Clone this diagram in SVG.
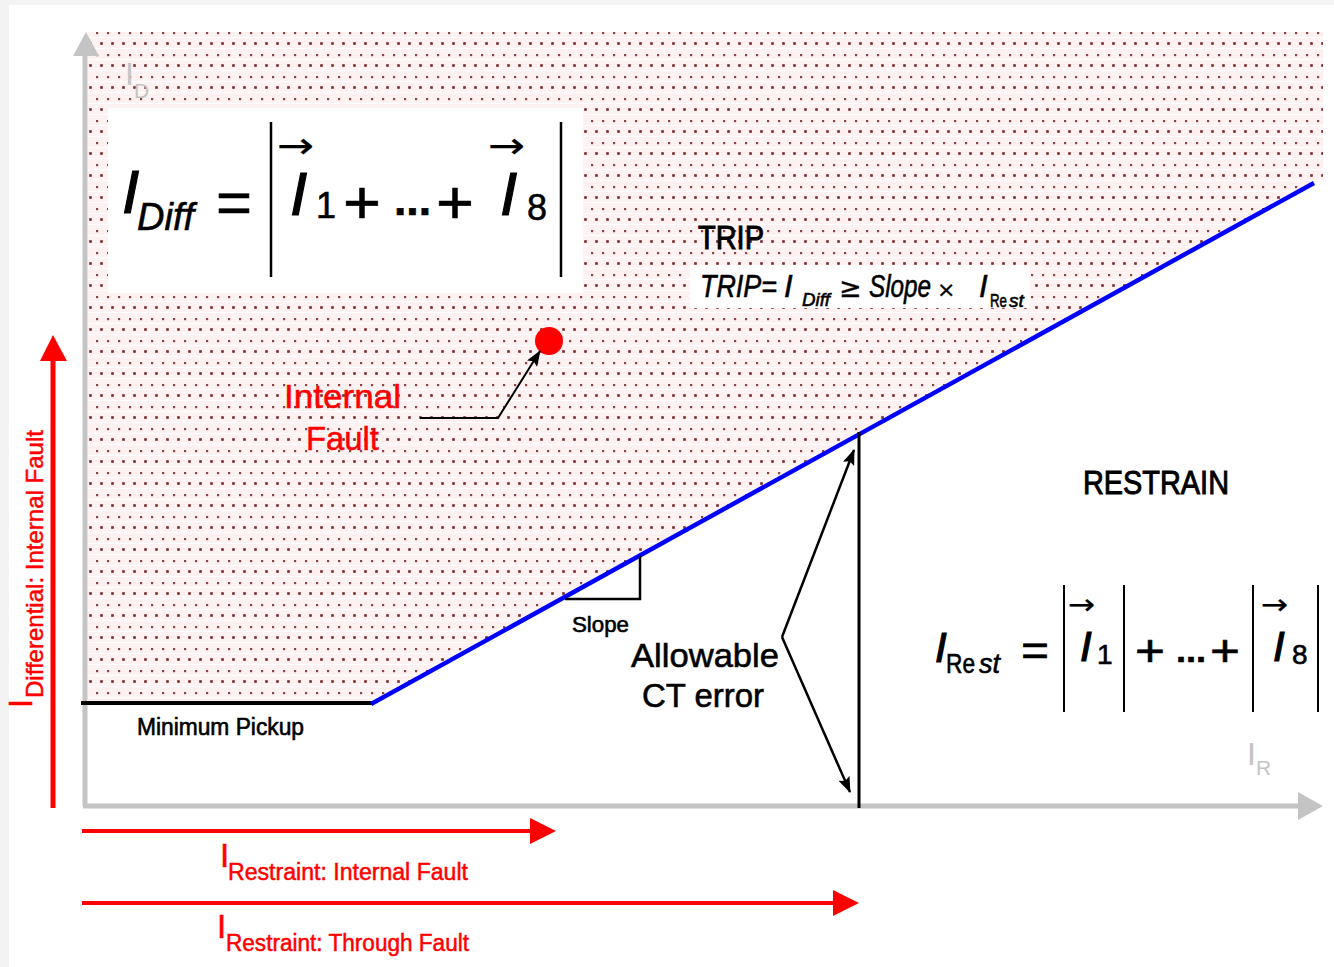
<svg xmlns="http://www.w3.org/2000/svg" width="1334" height="967" viewBox="0 0 1334 967">
<style>
text{font-family:"Liberation Sans","DejaVu Sans",sans-serif;fill:#000;stroke:#000;stroke-width:0.6;}
.it{font-style:italic;}
.up{font-style:normal;}
.red{fill:#ff0000;stroke:#ff0000;stroke-width:0.5;}
.gray{fill:#c4c4c4;stroke:none;}
.sym{font-family:"DejaVu Sans","Liberation Sans",sans-serif;stroke-width:0.3;}
.big{stroke-width:1.2;}
</style>
<defs>
<pattern id="dots" patternUnits="userSpaceOnUse" x="0" y="32" width="11" height="22">
<rect width="11" height="22" fill="#fdf2f1"/>
<rect x="0" y="5" width="11" height="1" fill="#ffffff"/>
<rect x="0" y="16" width="11" height="1" fill="#ffffff"/>
<rect x="8" y="0" width="2.2" height="2.2" fill="#8a4444"/>
<rect x="1.2" y="10.2" width="2.6" height="2.6" fill="#772626"/>
</pattern>
<marker id="ah" viewBox="0 0 16 12" refX="15" refY="6" markerWidth="16" markerHeight="12" markerUnits="userSpaceOnUse" orient="auto">
<path d="M0,0 L16,6 L0,12 L3,6 z" fill="#000"/>
</marker>
</defs>
<rect width="1334" height="967" fill="#f3f3f3"/>
<rect x="9" y="5" width="1325" height="962" fill="#ffffff"/>

<g id="trip-region">
<polygon points="88,32 1323,32 1323,180 373,703 88,703" fill="url(#dots)"/>
</g>

<g id="axes">
<line x1="85" y1="806" x2="85" y2="50" stroke="#c4c4c4" stroke-width="5"/>
<polygon points="86,32 73,56 99,56" fill="#c4c4c4"/>
<line x1="83" y1="806" x2="1302" y2="806" stroke="#c4c4c4" stroke-width="5"/>
<polygon points="1323,806 1298,792 1298,820" fill="#c4c4c4"/>
<text x="125" y="85" class="gray" font-size="32">I</text>
<text x="134" y="98" class="gray" font-size="21">D</text>
<text x="1247" y="765" class="gray" font-size="32">I</text>
<text x="1256" y="775" class="gray" font-size="21">R</text>
</g>

<g id="idiff-formula">
<rect x="108" y="108" width="475" height="185" fill="#ffffff"/>
<text x="122" y="213" class="it big" font-size="62">I</text>
<text x="137" y="230" class="it" font-size="38" textLength="57">Diff</text>
<text x="216" y="223" font-size="60" textLength="36" lengthAdjust="spacingAndGlyphs">=</text>
<line x1="271" y1="122" x2="271" y2="277" stroke="#000" stroke-width="2.5"/>
<line x1="561" y1="122" x2="561" y2="277" stroke="#000" stroke-width="2.5"/>
<text x="277" y="158" class="sym" font-size="36" textLength="37" lengthAdjust="spacingAndGlyphs">→</text>
<text x="290" y="215" class="it big" font-size="62">I</text>
<text x="316" y="218" font-size="36">1</text>
<text x="343" y="223" font-size="62" textLength="38" lengthAdjust="spacingAndGlyphs">+</text>
<text x="394" y="215" font-size="44" font-weight="bold" textLength="37" lengthAdjust="spacingAndGlyphs">...</text>
<text x="436" y="223" font-size="62" textLength="38" lengthAdjust="spacingAndGlyphs">+</text>
<text x="488" y="158" class="sym" font-size="36" textLength="37" lengthAdjust="spacingAndGlyphs">→</text>
<text x="500" y="215" class="it big" font-size="62">I</text>
<text x="527" y="220" font-size="36">8</text>
</g>

<g id="trip-label">
<text x="698" y="249" font-size="34" textLength="66" lengthAdjust="spacingAndGlyphs" style="stroke-width:1">TRIP</text>
</g>

<g id="trip-formula">
<rect x="690" y="265" width="340" height="43" fill="#ffffff" stroke="none"/>
<text class="it" font-size="31"><tspan x="700" y="297" textLength="77" lengthAdjust="spacingAndGlyphs">TRIP=</tspan><tspan x="784" y="297">I</tspan><tspan x="802" y="306" font-size="19" textLength="28" lengthAdjust="spacingAndGlyphs">Diff</tspan><tspan x="839" y="297" class="up sym" font-size="27">≥</tspan><tspan x="869" y="297" textLength="62" lengthAdjust="spacingAndGlyphs">Slope</tspan><tspan x="937" y="297" class="up sym" font-size="22">×</tspan><tspan x="979" y="297">I</tspan><tspan x="990" y="307" class="up" font-size="19" textLength="17" lengthAdjust="spacingAndGlyphs">Re</tspan><tspan x="1009" y="307" font-size="19">st</tspan></text>
</g>

<g id="restrain-label">
<text x="1083" y="494" font-size="34" textLength="146" lengthAdjust="spacingAndGlyphs" style="stroke-width:1">RESTRAIN</text>
</g>

<g id="irest-formula">
<text x="935" y="662" class="it big" font-size="42">I</text>
<text x="946" y="673" font-size="27" textLength="29" lengthAdjust="spacingAndGlyphs">Re</text>
<text x="979" y="673" class="it" font-size="27">st</text>
<text x="1021" y="666" font-size="44" textLength="28" lengthAdjust="spacingAndGlyphs">=</text>
<line x1="1064" y1="585" x2="1064" y2="712" stroke="#000" stroke-width="2"/>
<text x="1068" y="614" class="sym" font-size="28" textLength="27" lengthAdjust="spacingAndGlyphs">→</text>
<text x="1080" y="661" class="it big" font-size="42">I</text>
<text x="1097" y="664" font-size="28">1</text>
<line x1="1124" y1="585" x2="1124" y2="712" stroke="#000" stroke-width="2"/>
<text x="1135" y="666" font-size="44" textLength="30" lengthAdjust="spacingAndGlyphs">+</text>
<text x="1176" y="662" font-size="34" font-weight="bold" textLength="30" lengthAdjust="spacingAndGlyphs">...</text>
<text x="1210" y="666" font-size="44" textLength="30" lengthAdjust="spacingAndGlyphs">+</text>
<line x1="1253" y1="585" x2="1253" y2="712" stroke="#000" stroke-width="2"/>
<text x="1261" y="614" class="sym" font-size="28" textLength="27" lengthAdjust="spacingAndGlyphs">→</text>
<text x="1273" y="661" class="it big" font-size="42">I</text>
<text x="1292" y="664" font-size="28">8</text>
<line x1="1318" y1="585" x2="1318" y2="712" stroke="#000" stroke-width="2"/>
</g>

<g id="internal-fault">
<circle cx="549" cy="341" r="14" fill="#ff0000"/>
<text x="284" y="408" class="red" font-size="33" textLength="117" lengthAdjust="spacingAndGlyphs">Internal</text>
<text x="306" y="450" class="red" font-size="33" textLength="73" lengthAdjust="spacingAndGlyphs">Fault</text>
</g>

<g id="slope-label">
<text x="572" y="632" font-size="22" textLength="57" lengthAdjust="spacingAndGlyphs">Slope</text>
</g>

<g id="allowable-label">
<text x="631" y="667" font-size="34" textLength="148" lengthAdjust="spacingAndGlyphs">Allowable</text>
<text x="642" y="707" font-size="34" textLength="122" lengthAdjust="spacingAndGlyphs">CT error</text>
</g>

<g id="min-pickup-label">
<text x="137" y="735" font-size="23" textLength="167" lengthAdjust="spacingAndGlyphs">Minimum Pickup</text>
</g>

<g id="red-labels">
<text x="220" y="867" class="red" font-size="33">I</text>
<text x="228" y="880" class="red" font-size="23" textLength="240" lengthAdjust="spacingAndGlyphs">Restraint: Internal Fault</text>
<text x="217" y="938" class="red" font-size="33">I</text>
<text x="226" y="951" class="red" font-size="23" textLength="243" lengthAdjust="spacingAndGlyphs">Restraint: Through Fault</text>
<text transform="translate(32,708) rotate(-90)" class="red" font-size="33">I</text>
<text transform="translate(43,698) rotate(-90)" class="red" font-size="24" textLength="268" lengthAdjust="spacingAndGlyphs">Differential: Internal Fault</text>
</g>

<g id="connectors">
<line x1="81" y1="703" x2="373" y2="703" stroke="#000" stroke-width="4"/>
<line x1="373" y1="703" x2="1312" y2="184" stroke="#0000ff" stroke-width="4.5" stroke-linecap="square"/>
<polyline points="565,599 640,599 640,556" fill="none" stroke="#000" stroke-width="2.5"/>
<line x1="859" y1="432" x2="859" y2="808" stroke="#000" stroke-width="3"/>
<line x1="782" y1="637" x2="854" y2="450" stroke="#000" stroke-width="2.5" marker-end="url(#ah)"/>
<line x1="782" y1="637" x2="850" y2="792" stroke="#000" stroke-width="2.5" marker-end="url(#ah)"/>
<polyline points="420,418 498,418 540,351" fill="none" stroke="#000" stroke-width="2" marker-end="url(#ah)"/>
<line x1="53" y1="808" x2="53" y2="355" stroke="#ff0000" stroke-width="5"/>
<polygon points="53,335 40,361 67,361" fill="#ff0000"/>
<line x1="82" y1="831" x2="535" y2="831" stroke="#ff0000" stroke-width="4"/>
<polygon points="556,831 530,818 530,844" fill="#ff0000"/>
<line x1="82" y1="903" x2="838" y2="903" stroke="#ff0000" stroke-width="4"/>
<polygon points="859,903 833,890 833,916" fill="#ff0000"/>
</g>
</svg>
